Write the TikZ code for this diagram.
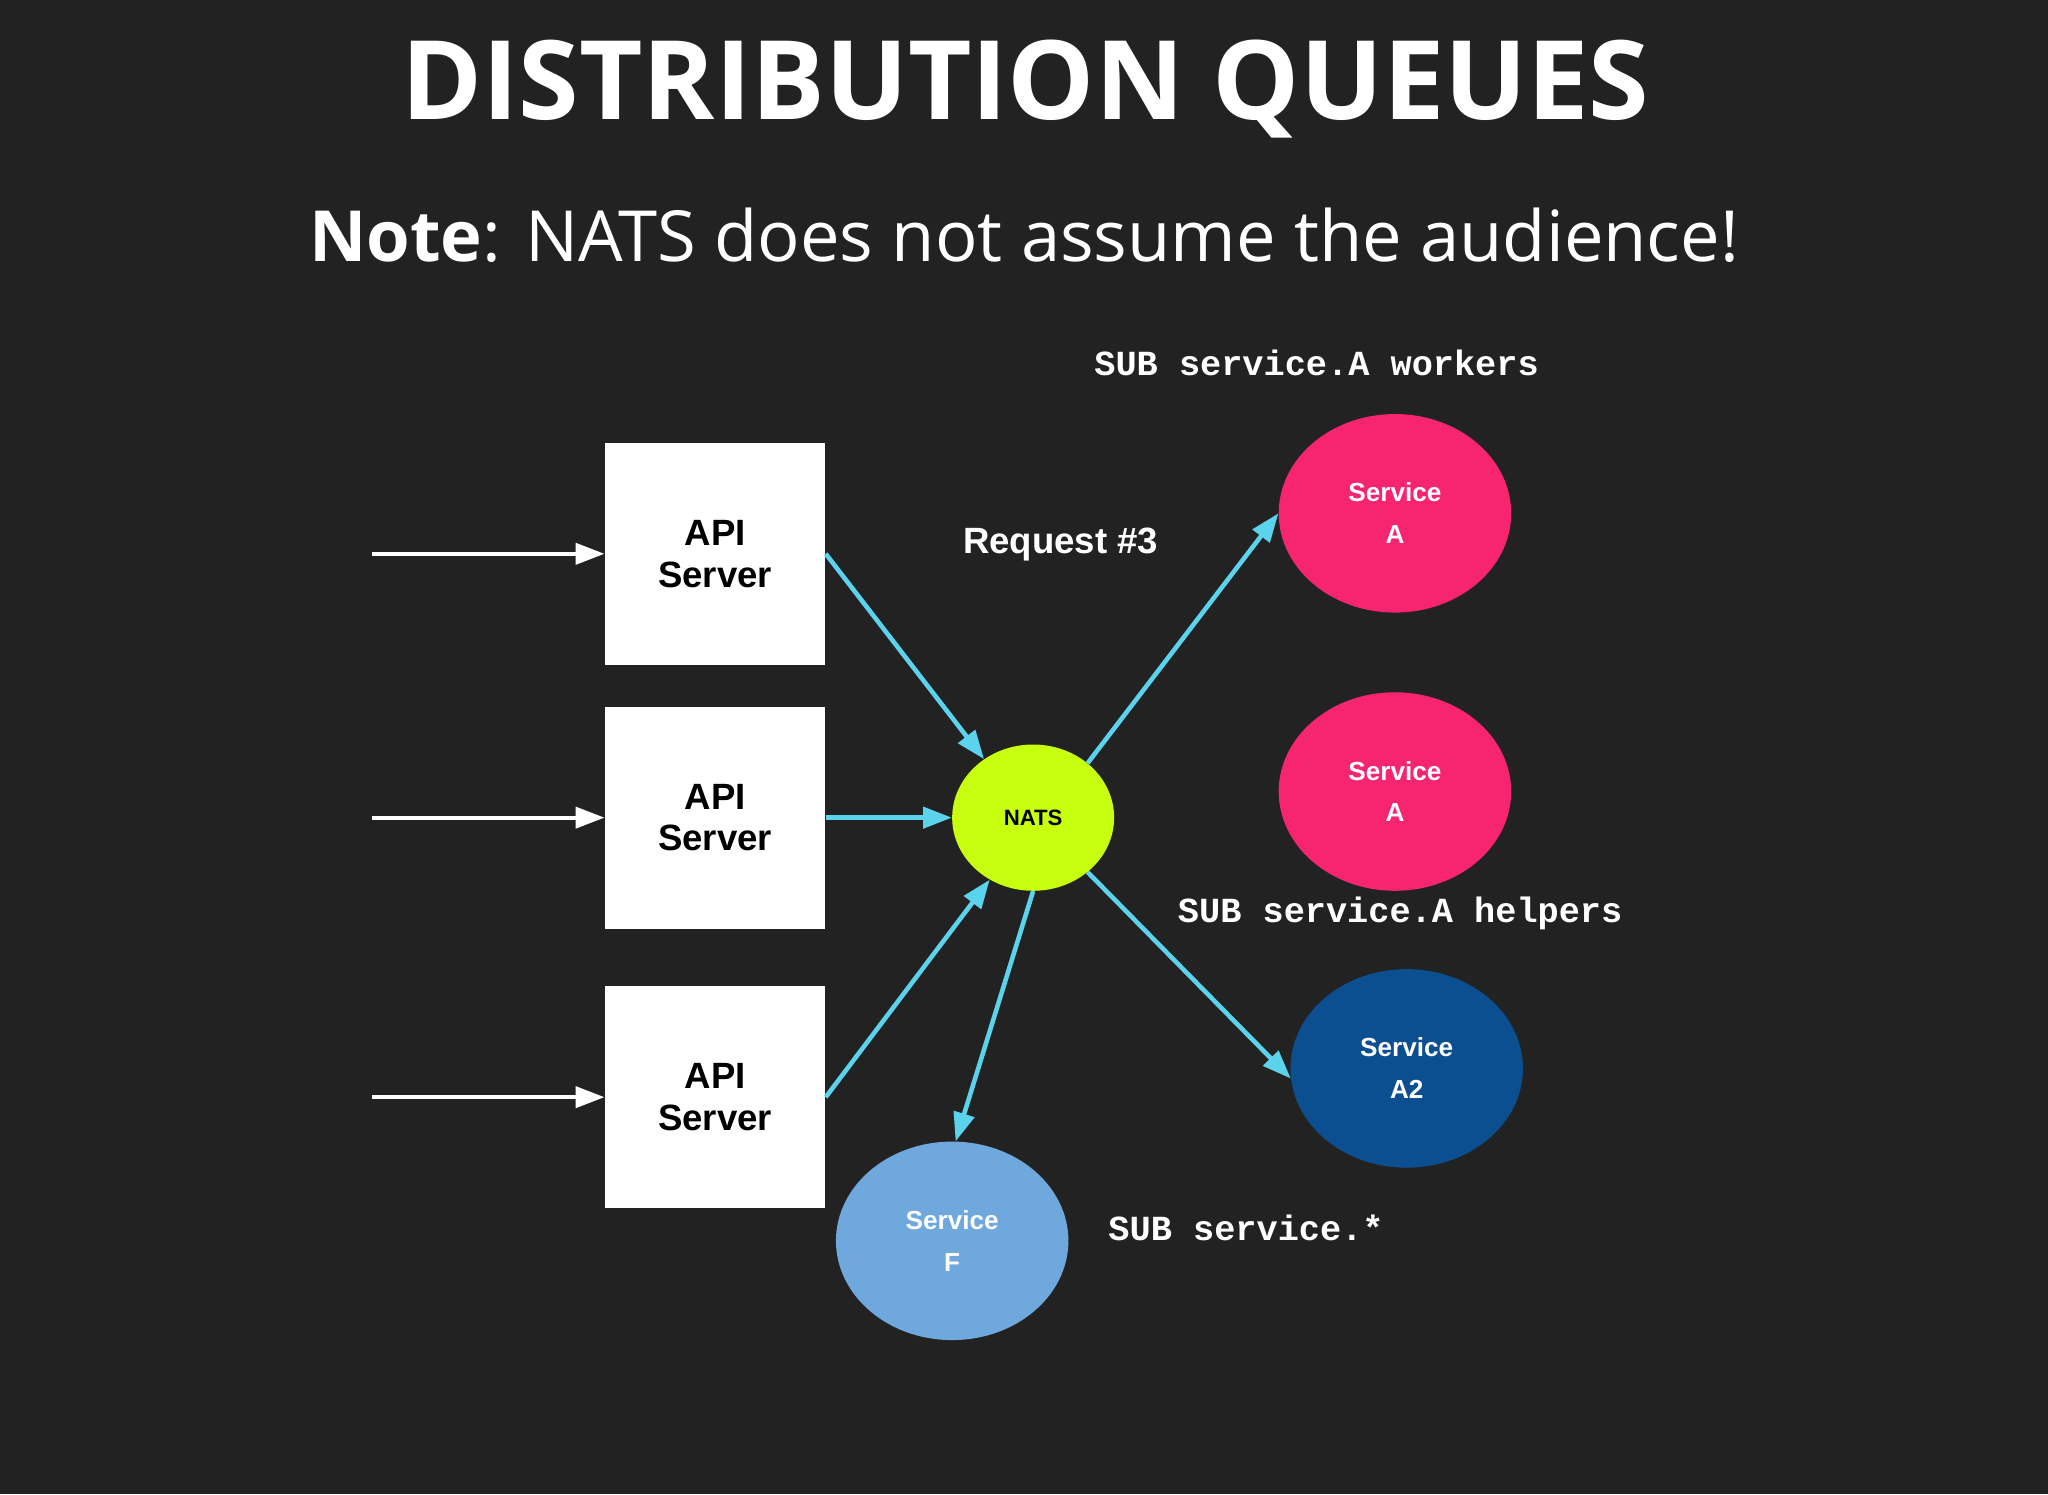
\documentclass[tikz,border=0pt]{standalone}
\usepackage{fontspec}
\setmainfont{Liberation Sans}
\newfontfamily\titlefont{Open Sans}
\newfontfamily\monofont{Liberation Mono}
\usetikzlibrary{arrows.meta,shapes.geometric}
\definecolor{bg}{HTML}{222222}
\definecolor{nats}{HTML}{C8FF10}
\definecolor{pinkc}{HTML}{F72570}
\definecolor{darkb}{HTML}{0C4F91}
\definecolor{lightb}{HTML}{6FA8DC}
\definecolor{cyanl}{HTML}{5BD3EC}
\begin{document}
\begin{tikzpicture}[x=1pt,y=-1pt,
  box/.style={draw=none,fill=white,minimum width=169pt,minimum height=170pt,align=center,font=\fontsize{28}{32}\selectfont\bfseries,text=black},
  svc/.style={ellipse,minimum width=178pt,minimum height=152pt,align=center,font=\fontsize{20}{32}\selectfont\bfseries,text=white,inner sep=0pt},
  wa/.style={draw=white,line width=3pt,-{Triangle[length=22pt,width=16pt,fill=white]}},
  ca/.style={draw=cyanl,line width=3.5pt,-{Triangle[length=22pt,width=16pt,fill=cyanl]}},
  mono/.style={font=\monofont\fontsize{27}{30}\selectfont\bfseries,text=white}]
\useasboundingbox[fill=bg] (0,0) rectangle (1568,1144);
\node[text=white,font=\titlefont\fontsize{84}{90}\selectfont\bfseries] (title) at (785,68) {DISTRIBUTION QUEUES};
\node[text=white,font=\titlefont\fontsize{54}{60}\selectfont] (note) at (784,180) {\textbf{Note}: NATS does not assume the audience!};
\node[mono] (l1) at (1008,278) {SUB service.A workers};
\node[mono] (l2) at (1072,699) {SUB service.A helpers};
\node[mono] (l3) at (954,940) {SUB service.*};
\node[text=white,font=\fontsize{28}{32}\selectfont\bfseries] (req) at (812,417) {Request \#3};
\node[box] (b1) at (547.5,424) {API\\Server};
\node[box] (b2) at (547.5,626) {API\\Server};
\node[box] (b3) at (547.5,840) {API\\Server};
\coordinate (s1) at (285,424);
\coordinate (s2) at (285,626);
\coordinate (s3) at (285,840);
\draw[wa] (s1) -- (b1.west);
\draw[wa] (s2) -- (b2.west);
\draw[wa] (s3) -- (b3.west);
\node[ellipse,fill=nats,minimum width=124pt,minimum height=112pt,inner sep=0pt,font=\fontsize{17}{20}\selectfont\bfseries,text=black] (nats) at (791,626) {NATS};
\node[svc,fill=pinkc] (a1) at (1068,393) {Service\\A};
\node[svc,fill=pinkc] (a2) at (1068,606) {Service\\A};
\node[svc,fill=darkb] (a3) at (1077,818) {Service\\A2};
\node[svc,fill=lightb] (f) at (729,950) {Service\\F};
\draw[ca] (b1.east) -- (nats.130);
\draw[ca] (b2.east) -- (nats.west);
\draw[ca] (b3.east) -- (nats.235);
\draw[ca] (nats.45) -- (a1.west);
\draw[ca] (nats.-45) -- (a3.185);
\draw[ca] (nats.south) -- (f.88);
\end{tikzpicture}
\end{document}
